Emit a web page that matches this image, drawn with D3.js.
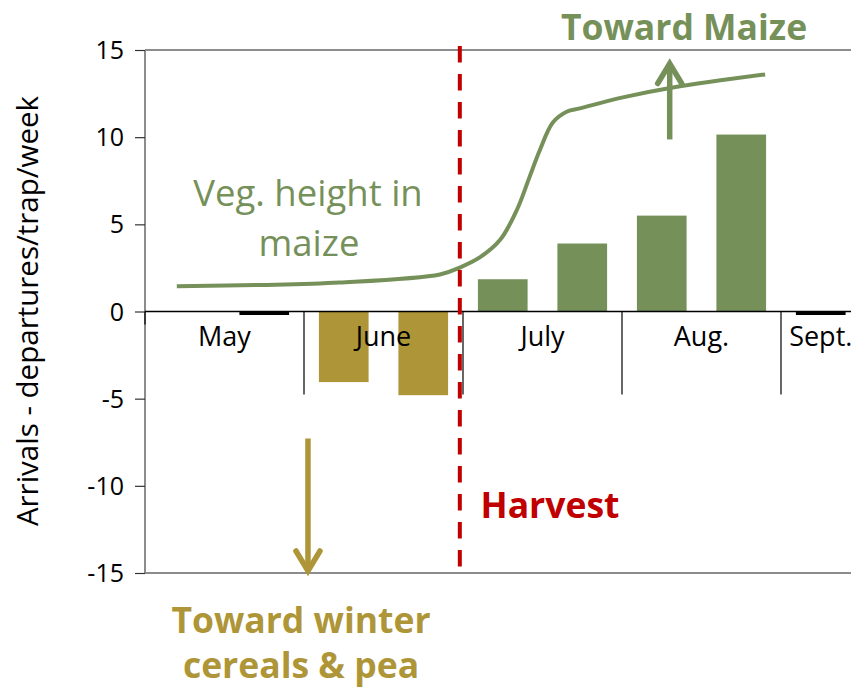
<!DOCTYPE html>
<html><head><meta charset="utf-8">
<script src="https://cdn.jsdelivr.net/npm/d3@7"></script>
<style>body{margin:0;background:#fff}svg{display:block}</style>
</head><body>
<svg id="c" width="851" height="690"></svg>
<script>
// ---- data ----
const months = ["May", "June", "July", "Aug.", "Sept."];
const monthStartWeek = [0, 2, 4, 6, 8];
const monthWeekCount = [2, 2, 2, 2, 1];
const weekIndex = [0, 1, 2, 3, 4, 5, 6, 7, 8];
const weekValues = [null, 0, -4.05, -4.8, 1.85, 3.9, 5.5, 10.15, 0];
const yTicks = [-15, -10, -5, 0, 5, 10, 15];
// vegetation height curve (position in weeks, value in axis units)
const vegPos =    [0.40, 1.45, 2.45, 3.71, 3.96, 4.21, 4.47, 4.68, 4.84, 4.97, 5.13, 5.31, 5.47, 6.01, 6.64, 7.80];
const vegHeight = [1.45, 1.52, 1.66, 2.12, 2.52, 3.10, 4.13, 5.85, 7.75, 9.29, 10.84, 11.47, 11.65, 12.28, 12.85, 13.60];
const harvestPos = 3.96;
const yLabel = "Arrivals - departures/trap/week";

// ---- layout ----
const GREEN = "#76905A", GOLD = "#AE9638", RED = "#C00000";
const FONT = "'Open Sans', 'Noto Sans', sans-serif";
const pL = 145, pR = 860.5, pT = 50, pB = 573;
const nWeeks = 9;

const svg = d3.select("#c");
const y = d3.scaleLinear().domain([-15, 15]).range([pB, pT]);
const xb = d3.scaleBand().domain(weekIndex).range([pL, pR]).paddingInner(0.375).paddingOuter(0.1875);
const xu = d3.scaleLinear().domain([0, nWeeks]).range([pL, pR]);
const y0 = y(0);

// top/bottom frame lines
svg.append("g").selectAll("line").data([15, -15]).join("line")
  .attr("x1", pL).attr("x2", pR).attr("y1", d => y(d)).attr("y2", d => y(d))
  .attr("stroke", "#8c8c8c").attr("stroke-width", 2);

// bars
const bars = weekIndex.filter(i => weekValues[i] !== null);
svg.append("g").selectAll("rect").data(bars).join("rect")
  .attr("x", i => xb(i)).attr("width", xb.bandwidth())
  .attr("y", i => weekValues[i] === 0 ? y0 : y(Math.max(0, weekValues[i])))
  .attr("height", i => weekValues[i] === 0 ? 3.5 : Math.abs(y(weekValues[i]) - y0))
  .attr("fill", i => weekValues[i] > 0 ? GREEN : (weekValues[i] < 0 ? GOLD : "#000"));

// y axis
const yAxis = d3.axisLeft(y).tickValues(yTicks).tickSize(10).tickPadding(11).tickFormat(d => String(d));
const ga = svg.append("g").attr("transform", `translate(${pL},0)`).call(yAxis);
ga.select(".domain").attr("stroke", "#8c8c8c").attr("stroke-width", 2).attr("d", `M0,${pT}V${pB}`);
ga.selectAll(".tick line").attr("stroke", "#333").attr("stroke-width", 1.2);
ga.selectAll(".tick text").attr("font-family", FONT).attr("font-size", 25).attr("fill", "#000")
  .attr("dy", "0.34em");

// zero line
svg.append("line").attr("x1", pL).attr("x2", pR).attr("y1", y0).attr("y2", y0)
  .attr("stroke", "#000").attr("stroke-width", 1.3);

// category separators
svg.append("g").selectAll("line").data(monthStartWeek.slice(1)).join("line")
  .attr("x1", d => xu(d)).attr("x2", d => xu(d)).attr("y1", y0).attr("y2", y0 + 83)
  .attr("stroke", "#000").attr("stroke-width", 1.2);
svg.append("line").attr("x1", pL).attr("x2", pL).attr("y1", y0).attr("y2", y0 + 13)
  .attr("stroke", "#000").attr("stroke-width", 1.2);

// month labels
svg.append("g").selectAll("text").data(months).join("text")
  .attr("x", (d, i) => xu(monthStartWeek[i] + monthWeekCount[i] / 2))
  .attr("y", y0 + 34)
  .attr("text-anchor", "middle").attr("font-family", FONT).attr("font-size", 27).attr("fill", "#000")
  .text(d => d);

// veg height curve
const vegData = vegPos.map((p, i) => [p, vegHeight[i]]);
svg.append("path").datum(vegData)
  .attr("d", d3.line().x(d => xu(d[0])).y(d => y(d[1])).curve(d3.curveCatmullRom.alpha(0.5)))
  .attr("fill", "none").attr("stroke", GREEN).attr("stroke-width", 4);

// harvest dashed line
svg.append("line").attr("x1", xu(harvestPos)).attr("x2", xu(harvestPos))
  .attr("y1", pT - 4).attr("y2", pB - 6)
  .attr("stroke", RED).attr("stroke-width", 4).attr("stroke-dasharray", "16.5,11.5");

// arrows
function arrow(x, y1, y2, color) {
  const dir = y2 < y1 ? 1 : -1;
  const g = svg.append("g").attr("stroke", color).attr("stroke-width", 5.5).attr("fill", "none")
    .attr("stroke-linecap", "butt").attr("stroke-linejoin", "miter");
  g.append("line").attr("x1", x).attr("x2", x).attr("y1", y1).attr("y2", y2 + dir * 3);
  g.append("path").attr("d", `M${x - 12},${y2 + dir * 22}L${x},${y2 + dir * 2}L${x + 12},${y2 + dir * 22}`)
    .attr("stroke-linecap", "round");
}
arrow(xu(6.6), y(9.87), y(14.34), GREEN);
arrow(xu(2.05), y(-7.29), y(-15), GOLD);

// annotations
function txt(x, yy, s, color, weight, size) {
  svg.append("text").attr("x", x).attr("y", yy).attr("text-anchor", "middle")
    .attr("font-family", FONT).attr("font-size", size).attr("font-weight", weight)
    .attr("fill", color).text(s);
}
txt(684, 40, "Toward Maize", GREEN, 700, 35.5);
txt(308, 206, "Veg. height in", GREEN, 400, 36.5);
txt(309, 256, "maize", GREEN, 400, 36.5);
txt(550, 518, "Harvest", RED, 700, 35.5);
txt(301, 633, "Toward winter", GOLD, 700, 35.5);
txt(301, 678, "cereals & pea", GOLD, 700, 35.5);

// y label
svg.append("text").attr("transform", `translate(38,311) rotate(-90)`)
  .attr("text-anchor", "middle").attr("font-family", FONT).attr("font-size", 29.5).attr("fill", "#000")
  .text(yLabel);
</script>
</body></html>
